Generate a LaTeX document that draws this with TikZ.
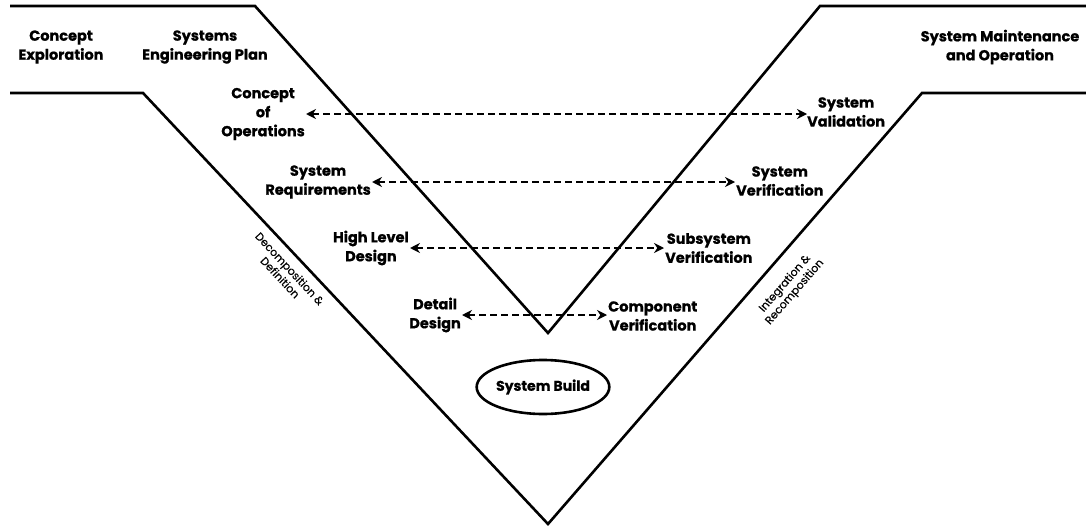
\documentclass[tikz,border=0pt]{standalone}
\usepackage{fontspec}
\setmainfont{Poppins}[BoldFeatures={FakeBold=0.8}]
\newfontfamily\sidefont{Poppins}[FakeBold=0.4]
\usetikzlibrary{arrows.meta,shapes.geometric}
\begin{document}
\begin{tikzpicture}[x=1pt,y=-1pt,
  vline/.style={line width=2.6pt,line join=miter},
  lbl/.style={font=\bfseries\fontsize{14.5}{19}\selectfont,align=center,inner sep=1pt},
  sidelbl/.style={font=\sidefont\fontsize{11}{13}\selectfont,align=center,inner sep=0pt},
  link/.style={line width=2.4pt,dash pattern=on 7pt off 4pt,{Stealth[length=10pt,width=10pt]}-{Stealth[length=10pt,width=10pt]}}]
\useasboundingbox (0,0) rectangle (1086,527);
\fill[white] (0,0) rectangle (1086,527);
% corners of the two V outlines
\coordinate (i0) at (10,6);
\coordinate (i1) at (255,6);
\coordinate (i2) at (548,333);
\coordinate (i3) at (820,6);
\coordinate (i4) at (1086,6);
\coordinate (o0) at (10,93);
\coordinate (o1) at (143,93);
\coordinate (o2) at (548,524);
\coordinate (o3) at (922,93);
\coordinate (o4) at (1086,93);
\draw[vline] (i0) -- (i1) -- (i2) -- (i3) -- (i4);
\draw[vline] (o0) -- (o1) -- (o2) -- (o3) -- (o4);
% phase titles
\node[lbl] (ce) at (61,47) {Concept\\Exploration};
\node[lbl] (sep) at (205,47) {Systems\\Engineering Plan};
\node[lbl] (smo) at (1000,47) {System Maintenance\\and Operation};
% left arm
\node[lbl,anchor=east] (conops) at (306,114) {Concept\\of\\Operations};
\node[lbl,anchor=east] (sysreq) at (372,182) {System\\Requirements};
\node[lbl,anchor=east] (hld) at (410,248) {High Level\\Design};
\node[lbl,anchor=east] (dd) at (462,315) {Detail\\Design};
% right arm
\node[lbl,anchor=west,inner sep=0pt] (sval) at (807,112) {System\\Validation};
\node[lbl,anchor=west] (sver) at (735,181) {System\\Verification};
\node[lbl,anchor=west] (subver) at (664,248) {Subsystem\\Verification};
\node[lbl,anchor=west] (compver) at (607,316) {Component\\Verification};
% build step
\node[ellipse,draw,line width=2.6pt,minimum width=122pt,minimum height=54pt,inner sep=0pt,
      font=\bfseries\fontsize{14}{17}\selectfont] (build) at (543,387) {System Build};
% side captions
\node[sidelbl,rotate=-47] (decomp) at (285,273) {Decomposition \&\\Definition};
\node[sidelbl,rotate=49] (integ) at (790,288) {Integration \&\\Recomposition};
% verification links
\draw[link] (conops.east) -- (sval.west |- conops.east);
\draw[link] (sysreq.east) -- (sver.west |- sysreq.east);
\draw[link] (hld.east) -- (subver.west |- hld.east);
\draw[link] (dd.east) -- (compver.west |- dd.east);
\end{tikzpicture}
\end{document}
